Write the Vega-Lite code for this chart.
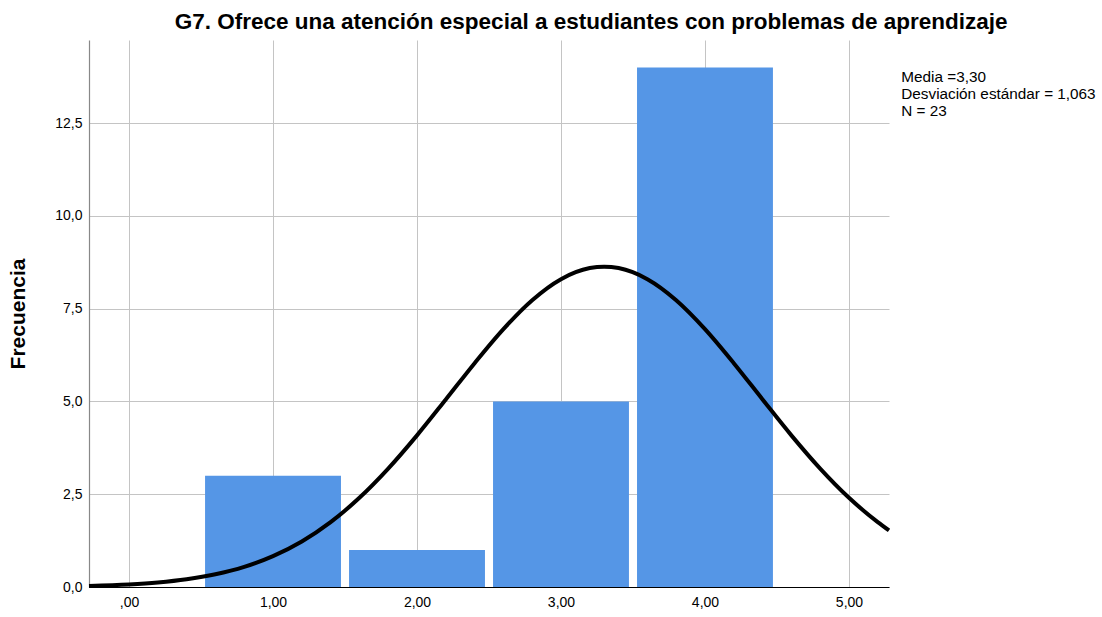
{
  "$schema": "https://vega.github.io/schema/vega-lite/v6.json",
  "width": 800,
  "height": 547,
  "autosize": "none",
  "padding": {"left": 89, "top": 40, "right": 213, "bottom": 30},
  "background": "white",
  "config": {
    "font": "Liberation Sans",
    "view": {"stroke": null}
  },
  "title": {
    "text": "G7. Ofrece una atención especial a estudiantes con problemas de aprendizaje",
    "anchor": "start",
    "dx": 167,
    "offset": 7,
    "font": "Liberation Sans",
    "fontSize": 22.5,
    "fontWeight": "bold",
    "color": "black"
  },
  "datasets": {
    "bars": [
      {"lo": 0.528, "hi": 1.472, "count": 3},
      {"lo": 1.528, "hi": 2.472, "count": 1},
      {"lo": 2.528, "hi": 3.472, "count": 5},
      {"lo": 3.528, "hi": 4.472, "count": 14}
    ],
    "curve": [
      {"x": -0.278, "y": 0.030},
      {"x": 0.0, "y": 0.070},
      {"x": 0.2, "y": 0.123},
      {"x": 0.4, "y": 0.209},
      {"x": 0.6, "y": 0.343},
      {"x": 0.8, "y": 0.543},
      {"x": 1.0, "y": 0.831},
      {"x": 1.2, "y": 1.226},
      {"x": 1.4, "y": 1.747},
      {"x": 1.6, "y": 2.403},
      {"x": 1.8, "y": 3.190},
      {"x": 2.0, "y": 4.086},
      {"x": 2.2, "y": 5.053},
      {"x": 2.4, "y": 6.032},
      {"x": 2.6, "y": 6.949},
      {"x": 2.8, "y": 7.728},
      {"x": 3.0, "y": 8.295},
      {"x": 3.2, "y": 8.594},
      {"x": 3.3, "y": 8.632},
      {"x": 3.4, "y": 8.594},
      {"x": 3.6, "y": 8.295},
      {"x": 3.8, "y": 7.728},
      {"x": 4.0, "y": 6.949},
      {"x": 4.2, "y": 6.032},
      {"x": 4.4, "y": 5.053},
      {"x": 4.6, "y": 4.086},
      {"x": 4.8, "y": 3.190},
      {"x": 5.0, "y": 2.403},
      {"x": 5.2, "y": 1.747},
      {"x": 5.278, "y": 1.523}
    ],
    "stats": [
      {"label": "Media =3,30"},
      {"label": "Desviación estándar = 1,063"},
      {"label": "N = 23"}
    ]
  },
  "layer": [
    {
      "data": {"name": "bars"},
      "mark": {"type": "bar", "color": "#5596E6"},
      "encoding": {
        "x": {
          "field": "lo",
          "type": "quantitative",
          "scale": {"domain": [-0.278, 5.278], "nice": false, "zero": false},
          "axis": {
            "title": null,
            "values": [0, 1, 2, 3, 4, 5],
            "labelExpr": "datum.value == 0 ? ',00' : replace(format(datum.value, '.2f'), '.', ',')",
            "labelFontSize": 14,
            "labelColor": "black",
            "labelPadding": 8,
            "ticks": false,
            "grid": true,
            "gridColor": "#c4c4c4",
            "gridWidth": 1,
            "domainColor": "black",
            "domainWidth": 1.2
          }
        },
        "x2": {"field": "hi"},
        "y": {
          "field": "count",
          "type": "quantitative",
          "scale": {"domain": [0, 14.74], "nice": false},
          "axis": {
            "title": "Frecuencia",
            "titleFontSize": 21,
            "titleFontWeight": "bold",
            "titleColor": "black",
            "titlePadding": 26,
            "values": [0, 2.5, 5, 7.5, 10, 12.5],
            "labelExpr": "replace(format(datum.value, '.1f'), '.', ',')",
            "labelFontSize": 14,
            "labelColor": "black",
            "labelPadding": 7,
            "ticks": false,
            "grid": true,
            "gridColor": "#c4c4c4",
            "gridWidth": 1,
            "domainColor": "#888888",
            "domainWidth": 1.2
          }
        },
        "y2": {"datum": 0}
      }
    },
    {
      "data": {"name": "curve"},
      "mark": {"type": "line", "color": "black", "strokeWidth": 4, "interpolate": "monotone"},
      "encoding": {
        "x": {"field": "x", "type": "quantitative"},
        "y": {"field": "y", "type": "quantitative"}
      }
    },
    {
      "data": {"name": "stats"},
      "mark": {"type": "point", "opacity": 0},
      "encoding": {
        "color": {
          "field": "label",
          "type": "nominal",
          "scale": {
            "domain": ["Media =3,30", "Desviación estándar = 1,063", "N = 23"],
            "range": ["black", "black", "black"]
          },
          "legend": {
            "title": null,
            "orient": "none",
            "legendX": 797,
            "legendY": 29,
            "symbolSize": 0,
            "symbolStrokeWidth": 0,
            "symbolOpacity": 0,
            "labelOffset": 0,
            "labelFontSize": 15.3,
            "labelColor": "black",
            "labelLimit": 400,
            "rowPadding": 1.3,
            "padding": 0
          }
        }
      }
    }
  ]
}
